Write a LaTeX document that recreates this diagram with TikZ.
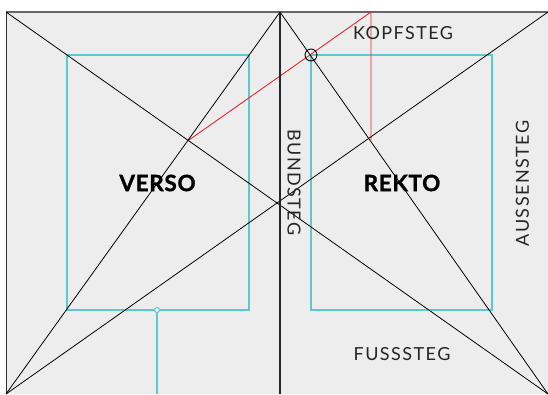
\documentclass[tikz,border=0pt]{standalone}
\usepackage{fontspec}
\setmainfont{Lato}
\begin{document}
\begin{tikzpicture}[x=1pt,y=-1pt,
  guide/.style={line width=0.8pt,black},
  blockframe/.style={draw=cyanline,line width=1.1pt},
  redguide/.style={line width=0.9pt,redline},
  lbl/.style={inner sep=0pt,font=\fontsize{18}{18}\selectfont\addfontfeatures{LetterSpace=8},text=black!85},
  pagename/.style={inner sep=0pt,font=\fontsize{22.5}{22.5}\selectfont\bfseries\addfontfeatures{LetterSpace=3,FakeBold=1.2}}]
\definecolor{bggray}{HTML}{EDEDED}
\definecolor{cyanline}{HTML}{5CC9CD}
\definecolor{redline}{HTML}{E8262F}
\useasboundingbox (0,0) rectangle (548,394);
\fill[white] (0,0) rectangle (548,394);
\fill[bggray] (6,12) rectangle (548,394);
% corners
\coordinate (tl) at (6,12);
\coordinate (bl) at (6,394);
\coordinate (tr) at (548,12);
\coordinate (br) at (548,394);
\coordinate (st) at (280,12);
\coordinate (sb) at (280,394);
\coordinate (redA) at (189,140);
\coordinate (redB) at (371,12);
\coordinate (redC) at (371,140);
\coordinate (mk) at (157,310);
\coordinate (mkb) at (157,394);
% text blocks
\draw[blockframe] (67,55) rectangle (249,310);
\draw[blockframe] (311,55) rectangle (492,310);
\draw[cyanline,line width=1.1pt] (mk) -- (mkb);
\node[circle,draw=cyanline,line width=1pt,fill=bggray,minimum size=5pt,inner sep=0pt] (mkc) at (mk) {};
% borders
\draw[line width=1.3pt,black!60] (tl) -- (tr);
\draw[line width=1pt,black!80] (tl) -- (bl);
% red construction
\draw[redguide] (redA) -- (redB) -- (redC);
% diagonals
\draw[guide] (tl) -- (br);
\draw[guide] (bl) -- (tr);
\draw[guide] (st) -- (bl);
\draw[guide] (st) -- (br);
\draw[line width=1.5pt,black!85] (st) -- (sb);
\node[circle,draw=black,line width=0.9pt,minimum size=12pt,inner sep=0pt] (ring) at (311,55) {};
% labels
\node[lbl] (kopf) at (403,33.5) {KOPFSTEG};
\node[lbl] (fuss) at (402,354) {FUSSSTEG};
\node[lbl,rotate=-90] (bund) at (294,182.5) {BUNDSTEG};
\node[lbl,rotate=90] (aussen) at (522.5,183.5) {AUSSENSTEG};
\node[pagename] (verso) at (157.5,183) {VERSO};
\node[pagename] (rekto) at (402,183) {REKTO};
\end{tikzpicture}
\end{document}
